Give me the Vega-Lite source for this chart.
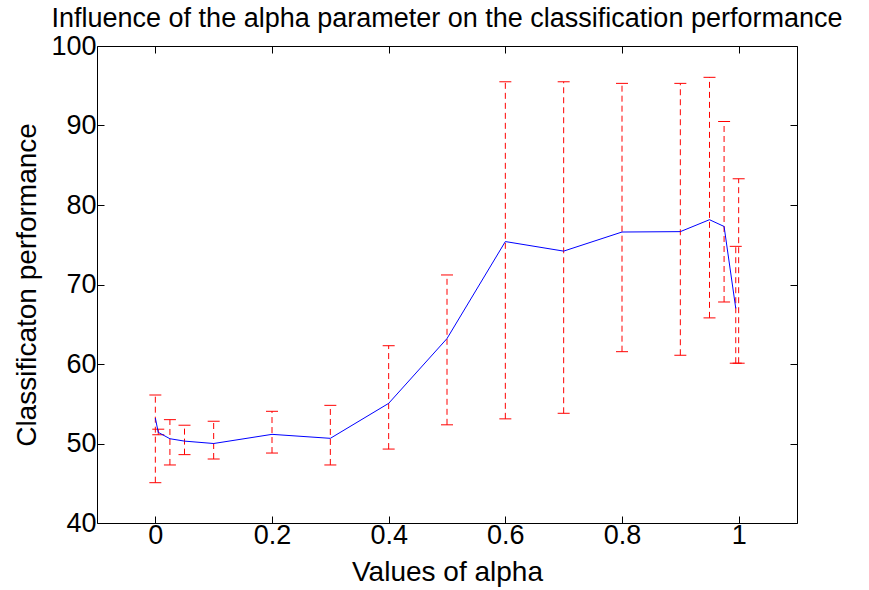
{
  "$schema": "https://vega.github.io/schema/vega-lite/v6.json",
  "autosize": {"type": "none"},
  "padding": {"left": 97, "top": 46, "right": 72, "bottom": 67},
  "width": 700,
  "height": 477,
  "background": "white",
  "config": {
    "view": {"stroke": "black", "strokeWidth": 1},
    "font": "Liberation Sans",
    "axis": {
      "grid": false,
      "domain": false,
      "tickColor": "black",
      "tickSize": -7,
      "labelColor": "black",
      "titleColor": "black",
      "labelFont": "Liberation Sans",
      "titleFont": "Liberation Sans",
      "labelFontSize": 27,
      "titleFontSize": 28,
      "titleFontWeight": "normal"
    }
  },
  "title": {
    "text": "Influence of the alpha parameter on the classification performance",
    "fontSize": 27,
    "fontWeight": "normal",
    "font": "Liberation Sans",
    "color": "black",
    "anchor": "middle",
    "offset": -1
  },
  "datasets": {
    "errors": [
      {"alpha": 0, "lo": 45.07, "hi": 56.1},
      {"alpha": 0.005, "lo": 51.1, "hi": 51.8},
      {"alpha": 0.025, "lo": 47.3, "hi": 53.0},
      {"alpha": 0.05, "lo": 48.6, "hi": 52.3},
      {"alpha": 0.1, "lo": 48.05, "hi": 52.8},
      {"alpha": 0.2, "lo": 48.8, "hi": 54.05},
      {"alpha": 0.3, "lo": 47.3, "hi": 54.8},
      {"alpha": 0.4, "lo": 49.3, "hi": 62.3},
      {"alpha": 0.5, "lo": 52.35, "hi": 71.2},
      {"alpha": 0.6, "lo": 53.1, "hi": 95.5},
      {"alpha": 0.7, "lo": 53.8, "hi": 95.5},
      {"alpha": 0.8, "lo": 61.55, "hi": 95.3},
      {"alpha": 0.9, "lo": 61.1, "hi": 95.3},
      {"alpha": 0.95, "lo": 65.8, "hi": 96.06},
      {"alpha": 0.975, "lo": 67.8, "hi": 90.5},
      {"alpha": 0.995, "lo": 60.1, "hi": 74.8},
      {"alpha": 1.0, "lo": 60.1, "hi": 83.3}
    ],
    "mean": [
      {"alpha": 0, "perf": 53.2},
      {"alpha": 0.005, "perf": 51.4},
      {"alpha": 0.025, "perf": 50.6},
      {"alpha": 0.05, "perf": 50.3},
      {"alpha": 0.1, "perf": 50.0},
      {"alpha": 0.2, "perf": 51.15},
      {"alpha": 0.3, "perf": 50.65},
      {"alpha": 0.4, "perf": 55.05},
      {"alpha": 0.5, "perf": 63.2},
      {"alpha": 0.6, "perf": 75.4},
      {"alpha": 0.7, "perf": 74.2},
      {"alpha": 0.8, "perf": 76.6},
      {"alpha": 0.9, "perf": 76.65},
      {"alpha": 0.95, "perf": 78.15},
      {"alpha": 0.975, "perf": 77.3},
      {"alpha": 0.995, "perf": 67.0}
    ]
  },
  "resolve": {"axis": {"x": "independent", "y": "independent"}},
  "layer": [
    {
      "data": {"name": "errors"},
      "mark": {"type": "rule", "color": "#ff0000", "strokeWidth": 1, "strokeDash": [6, 4]},
      "encoding": {
        "x": {"field": "alpha", "type": "quantitative",
              "scale": {"domain": [-0.1, 1.1], "nice": false, "zero": false},
              "axis": {"orient": "bottom", "values": [0, 0.2, 0.4, 0.6, 0.8, 1], "format": "~g", "title": "Values of alpha", "labelPadding": 6, "titlePadding": 10}},
        "y": {"field": "lo", "type": "quantitative",
              "scale": {"domain": [40, 100], "nice": false, "zero": false},
              "axis": {"orient": "left", "values": [40, 50, 60, 70, 80, 90, 100], "title": "Classificaton performance", "labelPadding": 8, "titlePadding": 9}},
        "y2": {"field": "hi"}
      }
    },
    {
      "data": {"name": "errors"},
      "mark": {"type": "tick", "orient": "horizontal", "color": "#ff0000", "size": 12, "thickness": 1, "opacity": 1},
      "encoding": {
        "x": {"field": "alpha", "type": "quantitative", "scale": {"domain": [-0.1, 1.1], "nice": false, "zero": false},
              "axis": {"orient": "top", "values": [0, 0.2, 0.4, 0.6, 0.8, 1], "labels": false, "title": null}},
        "y": {"field": "lo", "type": "quantitative", "scale": {"domain": [40, 100], "nice": false, "zero": false},
              "axis": {"orient": "right", "values": [40, 50, 60, 70, 80, 90, 100], "labels": false, "title": null}}
      }
    },
    {
      "data": {"name": "errors"},
      "mark": {"type": "tick", "orient": "horizontal", "color": "#ff0000", "size": 12, "thickness": 1, "opacity": 1},
      "encoding": {
        "x": {"field": "alpha", "type": "quantitative", "scale": {"domain": [-0.1, 1.1], "nice": false, "zero": false}, "axis": null},
        "y": {"field": "hi", "type": "quantitative", "scale": {"domain": [40, 100], "nice": false, "zero": false}, "axis": null}
      }
    },
    {
      "data": {"name": "mean"},
      "mark": {"type": "line", "color": "#0000ff", "strokeWidth": 1},
      "encoding": {
        "x": {"field": "alpha", "type": "quantitative", "scale": {"domain": [-0.1, 1.1], "nice": false, "zero": false}, "axis": null},
        "y": {"field": "perf", "type": "quantitative", "scale": {"domain": [40, 100], "nice": false, "zero": false}, "axis": null}
      }
    }
  ]
}
